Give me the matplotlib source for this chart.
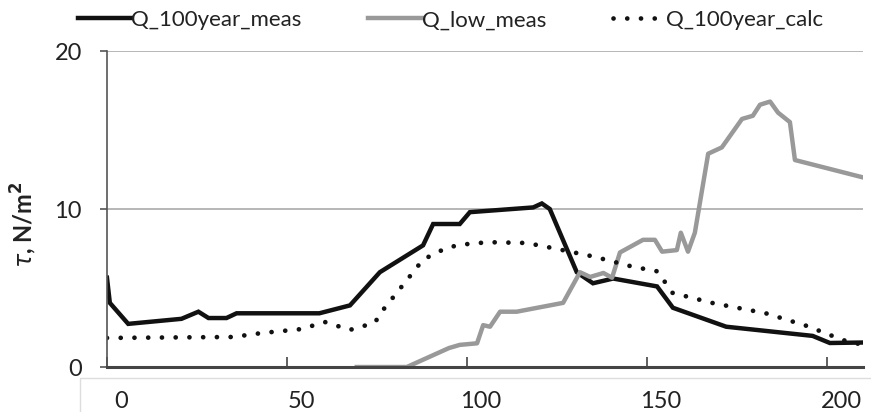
import numpy as np
import matplotlib.pyplot as plt
import matplotlib.transforms as mtransforms
from matplotlib.patches import Rectangle

plt.rcParams['font.family'] = ['Lato', 'DejaVu Sans']
plt.rcParams['mathtext.fontset'] = 'dejavusans'

# Q_100year_meas (black solid)
x_meas = [0, 0.8, 5.9, 20.7, 25.4, 28.2, 33.2, 36, 59, 67.5, 75.8, 87.8, 90.6, 98,
          100.8, 118.4, 120.8, 123, 130.5, 135, 140.6, 152.8, 157.2, 172, 196, 200.8, 210]
y_meas = [5.65, 4.06, 2.73, 3.05, 3.5, 3.1, 3.1, 3.4, 3.4, 3.9, 6.0, 7.7, 9.05, 9.05,
          9.8, 10.1, 10.35, 10.0, 6.0, 5.3, 5.6, 5.1, 3.75, 2.55, 1.97, 1.52, 1.55]

# Q_low_meas (grey solid)
x_low = [69.4, 83.3, 95, 98, 102.8, 104.5, 106.4, 109.2, 113.8, 126.7, 131.4, 134.2,
         137.9, 140.3, 142.5, 148.9, 152.2, 154.2, 158.3, 159.4, 161.4, 163.3, 167,
         170.8, 176.4, 179.4, 181.4, 184.2, 186.4, 189.7, 191.1, 210]
y_low = [0, 0, 1.2, 1.4, 1.5, 2.65, 2.55, 3.5, 3.5, 4.06, 6.0, 5.7, 5.95, 5.65, 7.25,
         8.05, 8.05, 7.3, 7.4, 8.5, 7.3, 8.5, 13.5, 13.9, 15.7, 15.9, 16.6, 16.8, 16.1,
         15.5, 13.1, 12.0]

# Q_100year_calc (black dotted)
x_calc = [0, 35, 43, 54, 60.5, 67.5, 74.4, 76.3, 83.3, 87.8, 94.4, 98.6, 105.9, 116.6,
          124.4, 135, 146, 153, 157, 168, 183, 194.4, 204.5, 210]
y_calc = [1.84, 1.9, 2.15, 2.4, 2.85, 2.35, 2.8, 3.5, 5.5, 6.8, 7.55, 7.75, 7.9, 7.85,
          7.5, 7.0, 6.35, 6.05, 4.7, 4.06, 3.4, 2.6, 1.7, 1.4]

x_ticks = [0, 50, 100, 150, 200]
y_ticks = [0, 10, 20]

fig = plt.figure(figsize=(8.71, 4.12), dpi=100)
ax = fig.add_axes([0.1228, 0.1092, 0.868, 0.767])

l1, = ax.plot(x_meas, y_meas, color='#111111', lw=3.2, solid_joinstyle='miter',
              label='Q_100year_meas')
l2, = ax.plot(x_low, y_low, color='#999999', lw=3.2, label='Q_low_meas')
l3, = ax.plot(x_calc, y_calc, color='#111111', lw=3.4, linestyle=(0, (0.01, 2.9)),
              dash_capstyle='round', label='Q_100year_calc')

ax.set_xlim(0, 210)
ax.set_ylim(0, 20)
ax.set_xticks(x_ticks)
ax.set_yticks(y_ticks)
ax.yaxis.grid(True, color='#aaaaaa', lw=1.2)
ax.set_axisbelow(True)

for s in ['top', 'right']:
    ax.spines[s].set_visible(False)
ax.spines['left'].set_color('#555555')
ax.spines['left'].set_linewidth(1.2)
ax.spines['bottom'].set_color('#444444')
ax.spines['bottom'].set_linewidth(2.2)

ax.tick_params(axis='y', direction='out', length=5, width=1.2, color='#555555',
               labelsize=17, labelcolor='#222222', pad=13)
ax.tick_params(axis='x', direction='in', length=7, width=1.2, color='#444444',
               labelsize=17, labelcolor='#222222', pad=17)

# x tick labels sit slightly right of their ticks
offset = mtransforms.ScaledTranslation(14 / 100, 0, fig.dpi_scale_trans)
for lab in ax.get_xticklabels():
    lab.set_transform(lab.get_transform() + offset)

ax.set_ylabel(r'$\tau$, N/m$^\mathbf{2}$', fontsize=17, fontweight='bold',
              color='#222222', labelpad=14)
ax.yaxis.set_label_coords(-0.09, 0.45)

# faint frame around the category label area
fig.add_artist(Rectangle((80 / 871, -0.05), 1.0, 0.0825 + 0.05, transform=fig.transFigure,
                         fill=False, edgecolor='#dddddd', lw=1.0))

fig.legend(handles=[l1, l2, l3], loc='center left', bbox_to_anchor=(0.0896, 0.951), ncol=3,
           frameon=False, fontsize=16, handlelength=2.4, handletextpad=0.0,
           columnspacing=3.0, borderpad=0, borderaxespad=0, labelcolor='#222222')

fig.savefig('out.png', dpi=100)
